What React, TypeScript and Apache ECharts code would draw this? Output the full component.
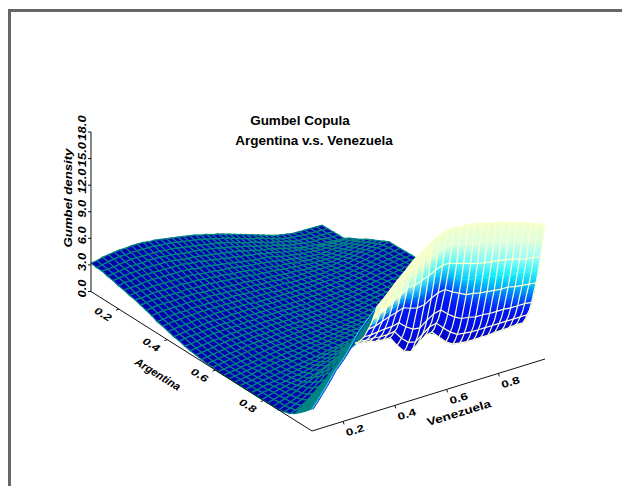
import React, { useEffect, useRef } from "react";
import * as echarts from "echarts";

const titleLines = ["Gumbel Copula", "Argentina v.s. Venezuela"];
const densityTicks = [0, 3, 6, 9, 12, 15, 18];
const argentinaTicks = [0.2, 0.4, 0.6, 0.8];
const venezuelaTicks = [0.2, 0.4, 0.6, 0.8];
const argentinaRange = [0.084, 1];
const venezuelaRange = [0.08, 0.98];

// Density surface, rows run along Argentina, columns along Venezuela (both normalised on the box)
const sheetZ: number[][] = [
[3.2,3.3,3.5,3.6,3.7,3.8,3.8,3.9,3.9,3.9,3.8,3.8,3.7,3.6,3.5,3.4,3.3,3.2,3.1,2.9,2.8,2.6,2.5,2.3,2.1,1.9,1.7,1.5,1.3,1.1,.9,.7,.5,.4,.3,.2,.2,.2,.2,.2,.2],
[3.1,3.2,3.4,3.5,3.6,3.6,3.7,3.7,3.7,3.7,3.7,3.6,3.6,3.5,3.4,3.3,3.2,3.1,3.0,2.8,2.7,2.5,2.4,2.2,2.0,1.8,1.6,1.4,1.3,1.1,.9,.7,.5,.4,.3,.3,.2,.2,.2,.2,.2],
[3.1,3.1,3.2,3.3,3.4,3.5,3.5,3.5,3.5,3.5,3.5,3.4,3.4,3.3,3.2,3.1,3.0,2.9,2.8,2.7,2.6,2.4,2.3,2.1,1.9,1.7,1.6,1.4,1.2,1.0,.9,.7,.6,.4,.3,.3,.2,.2,.2,.2,.2],
[2.9,3.0,3.1,3.2,3.3,3.3,3.3,3.4,3.4,3.4,3.3,3.3,3.2,3.1,3.0,3.0,2.9,2.8,2.7,2.6,2.4,2.3,2.2,2.0,1.9,1.7,1.5,1.4,1.2,1.1,.9,.7,.6,.5,.4,.3,.3,.3,.2,.2,.2],
[2.8,2.9,3.0,3.1,3.1,3.2,3.2,3.2,3.2,3.2,3.2,3.1,3.0,2.9,2.9,2.8,2.7,2.6,2.5,2.4,2.3,2.2,2.1,1.9,1.8,1.6,1.5,1.4,1.2,1.1,.9,.8,.6,.5,.5,.4,.3,.3,.3,.2,.2],
[2.6,2.8,2.8,2.9,3.0,3.0,3.0,3.0,3.0,3.0,3.0,3.0,2.9,2.8,2.8,2.6,2.6,2.4,2.4,2.2,2.2,2.0,2.0,1.8,1.8,1.6,1.5,1.4,1.2,1.1,1.0,.9,.8,.7,.6,.6,.6,.6,.6,.6,.6],
[2.5,2.6,2.6,2.7,2.8,2.8,2.8,2.8,2.8,2.8,2.8,2.8,2.7,2.6,2.6,2.5,2.4,2.3,2.2,2.1,2.0,1.9,1.8,1.7,1.7,1.6,1.5,1.3,1.2,1.1,1.0,.9,.9,.8,.8,.8,.8,.8,.8,.9,.9],
[2.3,2.4,2.5,2.5,2.6,2.6,2.6,2.6,2.6,2.6,2.6,2.6,2.5,2.4,2.4,2.3,2.2,2.2,2.1,2.0,1.9,1.8,1.8,1.7,1.6,1.5,1.4,1.3,1.2,1.1,1.0,1.0,.9,.9,.9,1.0,1.0,1.1,1.1,1.2,1.2],
[2.2,2.2,2.3,2.4,2.4,2.4,2.4,2.4,2.5,2.4,2.4,2.4,2.3,2.3,2.2,2.2,2.1,2.0,2.0,1.9,1.8,1.7,1.7,1.6,1.5,1.4,1.4,1.3,1.2,1.2,1.1,1.1,1.0,1.1,1.1,1.2,1.2,1.3,1.4,1.5,1.6],
[2.0,2.1,2.2,2.2,2.2,2.2,2.2,2.2,2.3,2.2,2.2,2.2,2.2,2.1,2.1,2.0,2.0,1.9,1.9,1.8,1.7,1.7,1.6,1.6,1.5,1.4,1.4,1.3,1.3,1.2,1.2,1.2,1.2,1.2,1.3,1.4,1.5,1.6,1.7,1.8,1.9],
[1.8,1.9,2.0,2.0,2.0,2.0,2.1,2.1,2.1,2.1,2.0,2.0,2.0,1.9,1.9,1.8,1.8,1.8,1.7,1.7,1.6,1.6,1.5,1.5,1.4,1.4,1.4,1.3,1.3,1.3,1.3,1.3,1.3,1.4,1.5,1.6,1.7,1.8,2.0,2.1,2.2],
[1.6,1.7,1.8,1.8,1.8,1.8,1.9,1.9,1.9,1.9,1.9,1.9,1.8,1.8,1.8,1.7,1.7,1.7,1.7,1.6,1.6,1.6,1.5,1.5,1.4,1.4,1.4,1.4,1.4,1.4,1.4,1.4,1.5,1.6,1.7,1.8,2.0,2.1,2.2,2.4,2.5],
[1.3,1.4,1.5,1.6,1.6,1.6,1.7,1.7,1.7,1.7,1.7,1.7,1.7,1.7,1.7,1.6,1.6,1.6,1.6,1.5,1.5,1.5,1.5,1.4,1.4,1.4,1.4,1.4,1.4,1.4,1.5,1.5,1.6,1.7,1.9,2.0,2.2,2.3,2.5,2.6,2.8],
[1.2,1.3,1.4,1.4,1.5,1.5,1.6,1.6,1.6,1.6,1.6,1.6,1.6,1.6,1.6,1.5,1.5,1.5,1.5,1.5,1.4,1.4,1.4,1.4,1.4,1.4,1.4,1.4,1.5,1.5,1.6,1.6,1.7,1.8,2.0,2.1,2.3,2.4,2.6,2.7,2.8],
[1.0,1.1,1.2,1.2,1.3,1.4,1.4,1.4,1.5,1.5,1.5,1.5,1.5,1.5,1.5,1.4,1.4,1.4,1.4,1.4,1.4,1.4,1.4,1.4,1.4,1.4,1.5,1.5,1.5,1.6,1.6,1.7,1.8,1.9,2.1,2.2,2.4,2.5,2.6,2.7,2.8],
[.8,.9,1.0,1.1,1.1,1.2,1.3,1.3,1.3,1.3,1.4,1.4,1.4,1.4,1.4,1.4,1.4,1.4,1.4,1.4,1.4,1.4,1.4,1.4,1.4,1.4,1.5,1.5,1.6,1.6,1.7,1.8,1.9,2.0,2.2,2.3,2.4,2.5,2.6,2.7,2.8],
[.7,.8,.9,.9,1.0,1.1,1.1,1.2,1.2,1.2,1.3,1.3,1.3,1.3,1.3,1.3,1.3,1.3,1.3,1.3,1.3,1.3,1.4,1.4,1.4,1.5,1.5,1.6,1.6,1.7,1.8,1.9,2.0,2.1,2.3,2.4,2.5,2.6,2.7,2.7,2.8],
[.5,.6,.7,.8,.9,1.0,1.0,1.1,1.1,1.1,1.2,1.2,1.2,1.3,1.3,1.3,1.3,1.3,1.3,1.3,1.3,1.3,1.4,1.4,1.4,1.5,1.5,1.6,1.6,1.7,1.8,1.9,2.0,2.2,2.3,2.4,2.5,2.6,2.7,2.8,2.8],
[.4,.5,.6,.7,.8,.8,.9,1.0,1.0,1.1,1.1,1.1,1.2,1.2,1.2,1.2,1.3,1.3,1.3,1.3,1.3,1.3,1.4,1.4,1.5,1.5,1.6,1.6,1.7,1.8,1.9,2.0,2.1,2.2,2.4,2.5,2.6,2.7,2.8,2.9,2.9],
[.3,.4,.5,.6,.7,.8,.9,.9,1.0,1.0,1.1,1.1,1.1,1.2,1.2,1.2,1.2,1.3,1.3,1.3,1.3,1.3,1.4,1.4,1.5,1.6,1.6,1.7,1.8,1.9,2.0,2.0,2.2,2.3,2.4,2.5,2.7,2.8,2.8,2.9,3.0],
[.2,.3,.4,.5,.6,.7,.8,.8,.9,1.0,1.0,1.0,1.1,1.1,1.2,1.2,1.2,1.2,1.3,1.3,1.3,1.3,1.4,1.4,1.5,1.6,1.7,1.7,1.8,1.9,2.0,2.1,2.2,2.3,2.5,2.6,2.7,2.8,2.9,2.9,3.0],
[.1,.2,.3,.4,.5,.6,.7,.8,.9,.9,1.0,1.0,1.1,1.1,1.2,1.2,1.2,1.3,1.3,1.3,1.3,1.4,1.4,1.5,1.6,1.6,1.7,1.8,1.9,2.0,2.1,2.2,2.3,2.4,2.5,2.6,2.7,2.8,2.9,2.9,3.0],
[.1,.2,.3,.4,.5,.6,.7,.8,.9,.9,1.0,1.0,1.1,1.1,1.2,1.2,1.3,1.3,1.3,1.4,1.4,1.4,1.5,1.6,1.7,1.7,1.8,1.9,2.0,2.0,2.2,2.2,2.4,2.4,2.6,2.6,2.8,2.8,2.9,3.0,3.0],
[0,.1,.2,.3,.4,.5,.6,.7,.8,.9,1.0,1.0,1.1,1.2,1.2,1.2,1.3,1.3,1.4,1.4,1.5,1.5,1.6,1.6,1.7,1.8,1.9,1.9,2.0,2.1,2.2,2.3,2.4,2.5,2.6,2.6,2.8,2.8,2.9,3.0,3.0],
[0,.1,.2,.3,.4,.5,.6,.7,.8,.9,1.0,1.0,1.1,1.2,1.2,1.2,1.3,1.4,1.4,1.5,1.5,1.6,1.7,1.7,1.8,1.9,2.0,2.0,2.1,2.2,2.3,2.4,2.5,2.6,2.7,2.7,2.8,2.9,2.9,3.0,3.0],
[0,.1,.2,.3,.4,.5,.6,.7,.8,.9,1.0,1.0,1.1,1.2,1.3,1.3,1.4,1.5,1.5,1.6,1.7,1.8,1.8,1.9,2.0,2.0,2.1,2.2,2.3,2.3,2.4,2.5,2.6,2.7,2.8,2.8,2.9,2.9,3.0,3.0,3.0],
[0,.1,.2,.3,.5,.6,.7,.8,.9,.9,1.0,1.1,1.2,1.3,1.4,1.4,1.5,1.6,1.7,1.8,1.9,1.9,2.0,2.1,2.2,2.2,2.3,2.4,2.4,2.5,2.6,2.6,2.7,2.8,2.8,2.9,2.9,3.0,3.0,3.0,3.0],
[0,.1,.2,.3,.5,.6,.7,.8,.9,1.0,1.1,1.2,1.3,1.4,1.5,1.6,1.7,1.8,1.9,2.0,2.0,2.1,2.2,2.3,2.3,2.4,2.5,2.5,2.6,2.6,2.7,2.8,2.8,2.9,2.9,3.0,3.0,3.0,3.0,3.0,3.0],
[0,.1,.3,.4,.5,.6,.7,.8,.9,1.0,1.1,1.2,1.3,1.4,1.6,1.7,1.8,1.9,2.0,2.1,2.2,2.3,2.4,2.4,2.5,2.6,2.6,2.7,2.7,2.8,2.8,2.9,2.9,2.9,3.0,3.0,3.0,3.0,3.0,3.0,3.0],
[0,.1,.3,.4,.5,.6,.8,.9,1.0,1.1,1.3,1.4,1.6,1.8,1.9,2.1,2.2,2.3,2.5,2.5,2.6,2.7,2.7,2.8,2.8,2.8,2.9,2.9,2.9,3.0,3.0,3.0,3.0,3.0,3.0,3.0,3.0,3.0,3.0,3.0,3.0],
[0,.2,.3,.5,.6,.7,.9,1.0,1.1,1.3,1.5,1.7,1.9,2.1,2.3,2.5,2.6,2.8,2.9,3.0,3.0,3.0,3.1,3.1,3.1,3.1,3.1,3.1,3.1,3.1,3.1,3.1,3.1,3.1,3.1,3.1,3.1,3.1,3.1,3.1,3.1],
[0,.2,.4,.6,.7,.9,1.0,1.2,1.4,1.6,1.9,2.1,2.3,2.6,2.9,3.2,3.4,3.5,3.6,3.6,3.6,3.5,3.5,3.4,3.4,3.4,3.3,3.3,3.2,3.2,3.2,3.2,3.2,3.2,3.2,3.2,3.2,3.2,3.2,3.2,3.2],
[0,.2,.4,.6,.8,1.0,1.2,1.4,1.6,1.9,2.2,2.5,2.8,3.2,3.5,3.9,4.2,4.2,4.2,4.2,4.2,4.0,3.8,3.7,3.6,3.6,3.5,3.5,3.4,3.4,3.4,3.4,3.4,3.4,3.4,3.4,3.4,3.4,3.4,3.4,3.4],
[0,.3,.5,.7,1.0,1.3,1.6,1.9,2.2,2.6,3.0,3.4,3.8,4.2,4.6,4.8,5.0,5.0,4.9,4.8,4.6,4.4,4.1,4.0,3.8,3.8,3.6,3.6,3.5,3.5,3.5,3.5,3.5,3.5,3.5,3.5,3.5,3.5,3.5,3.5,3.5],
[0,.3,.5,.8,1.1,1.5,1.9,2.4,2.8,3.3,3.8,4.3,4.8,5.2,5.6,5.7,5.8,5.7,5.6,5.3,5.0,4.7,4.4,4.2,4.0,3.9,3.7,3.6,3.5,3.5,3.5,3.6,3.6,3.6,3.6,3.6,3.6,3.6,3.6,3.6,3.6],
[.2,.4,.7,1.0,1.4,1.9,2.4,3.0,3.5,4.1,4.6,5.1,5.5,5.7,5.8,5.8,5.8,5.6,5.4,4.9,4.4,4.4,4.4,4.4,4.4,4.1,3.8,3.5,3.2,3.2,3.2,3.2,3.2,3.2,3.2,3.2,3.2,3.2,3.2,3.2,3.2],
[.4,.6,.9,1.3,1.8,2.4,3.0,3.6,4.3,4.9,5.5,5.9,6.3,6.2,6.0,5.9,5.8,5.5,5.2,4.5,3.8,4.0,4.3,4.6,4.9,4.4,3.9,3.4,3.0,2.9,2.8,2.8,2.8,2.8,2.8,2.8,2.8,2.8,2.9,2.9,2.9],
[.8,1.2,1.6,2.2,2.7,3.4,4.0,4.7,5.4,6.0,6.7,7.1,7.6,7.6,7.5,7.4,7.4,7.2,6.9,6.4,6.0,6.2,6.4,6.7,7.0,6.6,6.1,5.7,5.4,5.2,5.1,5.0,5.0,5.0,5.0,4.9,4.9,4.9,4.9,4.9,4.9],
[1.3,1.8,2.4,3.0,3.6,4.3,5.0,5.8,6.6,7.2,7.8,8.3,8.8,8.9,9.0,9.0,9.0,8.8,8.6,8.4,8.2,8.4,8.6,8.8,9.1,8.7,8.3,8.0,7.8,7.6,7.4,7.3,7.2,7.1,7.1,7.0,7.0,6.9,6.9,6.8,6.8],
[1.9,2.6,3.3,4.1,4.9,5.6,6.3,7.2,8.1,8.8,9.4,10.0,10.6,10.9,11.3,11.6,11.9,12.1,12.3,12.5,12.6,13.0,13.3,13.4,13.6,13.4,13.1,12.9,12.8,12.6,12.4,12.3,12.1,12.0,11.9,11.8,11.6,11.5,11.3,11.1,11.0],
[2.5,3.3,4.2,5.1,6.1,6.8,7.6,8.6,9.6,10.3,11.0,11.7,12.0,12.6,13.2,13.9,14.5,15.1,15.6,16.2,16.7,17.0,17.2,17.4,17.4,17.3,17.2,17.1,17.0,16.8,16.6,16.4,16.2,16.0,15.8,15.6,15.3,15.1,14.8,14.5,14.2],
];

// The steep upper-tail wall next to Argentina = 1, rows from its foot to its crest
const wallZ: number[][] = [
[6.1,5.9,5.8,5.6,5.5,5.5,4.4,3.5,3.2,3.9,4.5,4.7,3.9,3.1,2.6,2.5,2.4,2.4,2.4,2.4,2.5,2.5,2.5,2.6,2.6],
[6.3,6.2,6.1,5.9,5.9,5.9,4.9,4.0,3.8,4.5,5.0,5.2,4.5,3.7,3.2,3.1,3.0,3.0,3.0,3.0,3.1,3.0,3.0,3.1,3.1],
[6.6,6.5,6.5,6.4,6.4,6.5,5.5,4.8,4.6,5.2,5.8,6.0,5.2,4.5,4.0,3.9,3.8,3.8,3.8,3.8,3.8,3.8,3.8,3.8,3.8],
[7.0,6.9,6.9,6.9,6.9,7.0,6.2,5.5,5.4,6.0,6.5,6.7,6.0,5.3,4.9,4.8,4.6,4.6,4.6,4.5,4.6,4.5,4.5,4.5,4.5],
[7.4,7.4,7.5,7.6,7.6,7.8,7.1,6.6,6.5,7.1,7.6,7.8,7.1,6.5,6.1,6.0,5.8,5.8,5.7,5.7,5.7,5.6,5.6,5.6,5.5],
[8.0,8.1,8.3,8.4,8.6,8.8,8.3,8.0,8.0,8.5,9.0,9.1,8.5,8.0,7.6,7.5,7.3,7.3,7.2,7.1,7.1,7.0,6.9,6.9,6.8],
[8.6,8.7,9.0,9.3,9.5,9.8,9.5,9.3,9.4,9.9,10.3,10.4,9.9,9.5,9.1,9.0,8.8,8.7,8.6,8.5,8.5,8.3,8.2,8.1,8.0],
[9.2,9.5,9.9,10.3,10.6,11.1,10.9,10.9,11.1,11.6,11.9,12.0,11.6,11.2,10.9,10.8,10.6,10.5,10.4,10.2,10.1,10.0,9.8,9.7,9.5],
[10.0,10.4,10.9,11.4,11.8,12.4,12.4,12.7,13.0,13.4,13.7,13.7,13.4,13.2,12.9,12.7,12.5,12.4,12.3,12.1,12.0,11.7,11.5,11.4,11.2],
[10.9,11.4,12.1,12.7,13.3,14.0,14.3,14.8,15.2,15.5,15.7,15.9,15.7,15.5,15.3,15.1,14.9,14.7,14.6,14.3,14.2,13.9,13.7,13.4,13.2],
[11.8,12.5,13.3,14.1,14.8,15.6,16.2,16.7,17.3,17.7,17.9,18.0,17.9,17.9,17.7,17.5,17.3,17.1,16.9,16.6,16.4,16.1,15.8,15.5,15.2],
];
const WALL_U0 = 0.9, WALL_DU = 0.01, WALL_V0 = 0.28, WALL_DV = 0.03;

const P00 = [91, 291.5], P10 = [312, 431], P01 = [322, 227], P11 = [545, 359];
const Z_PX = 8.86;
const FONT = "Liberation Sans";

function project(u: number, v: number, z: number): number[] {
  const a = (1 - u) * (1 - v), b = u * (1 - v), c = (1 - u) * v, d = u * v;
  return [
    a * P00[0] + b * P10[0] + c * P01[0] + d * P11[0],
    a * P00[1] + b * P10[1] + c * P01[1] + d * P11[1] - z * Z_PX,
  ];
}
const uOf = (a: number) => (a - argentinaRange[0]) / (argentinaRange[1] - argentinaRange[0]);
const vOf = (a: number) => (a - venezuelaRange[0]) / (venezuelaRange[1] - venezuelaRange[0]);

const lerp = (a: number[], b: number[], t: number) => a.map((x, i) => x + (b[i] - x) * t);
const stops: [number, number[]][] = [
  [0, [0, 24, 255]], [0.5, [0, 240, 255]], [0.8, [190, 255, 250]], [1, [240, 255, 205]],
];
function wallColor(t: number, v: number): string {
  const tb = v < 0.55 ? 0.67 - (v - 0.3) * 0.2 : 0.62 - (v - 0.55) * 0.62;
  const tp = v < 0.55 ? 0.75 + (v - 0.3) * 0.72 : 0.93 + (v - 0.55) * 0.05;
  const w = (t - tb) / (tp - tb);
  let c: number[];
  if (w <= 0) c = lerp([0, 0, 200], [0, 24, 255], Math.max(0, t / tb));
  else if (w >= 1) c = stops[3][1];
  else {
    let k = 0;
    while (w > stops[k + 1][0]) k++;
    c = lerp(stops[k][1], stops[k + 1][1], (w - stops[k][0]) / (stops[k + 1][0] - stops[k][0]));
  }
  return `rgb(${c.map(Math.round).join(",")})`;
}

export default function App() {
  const ref = useRef<HTMLDivElement>(null);
  useEffect(() => {
    const chart = echarts.init(ref.current!, undefined, { renderer: "svg" });
    const nu = sheetZ.length - 1, nv = sheetZ[0].length - 1;
    const sheetCells: number[][] = [];
    for (let i = 0; i < nu; i++) for (let j = nv - 1; j >= 0; j--) {
      // the far part of the last rows lies behind the wall, which is drawn over it
      if (i >= nu - 2 && j >= nv / 2) continue;
      sheetCells.push([i, j]);
    }
    const wallCells: number[][] = [];
    for (let i = 0; i < wallZ.length - 1; i++) for (let j = wallZ[0].length - 2; j >= 0; j--) wallCells.push([i, j]);
    const wallPt = (i: number, j: number) => project(WALL_U0 + WALL_DU * i, WALL_V0 + WALL_DV * j, wallZ[i][j]);
    const sheetPt = (i: number, j: number) => project(i / nu, j / nv, sheetZ[i][j]);

    const wallLines: number[][] = [];
    for (let i = 0; i < wallZ.length; i += 2) wallLines.push([0, i]);
    for (let j = 0; j < wallZ[0].length; j++) wallLines.push([1, j]);

    type Mark = { kind: string; a: number[]; b: number[]; text?: string; rot?: number; italic?: boolean; size?: number; sx?: number };
    const marks: Mark[] = [];
    const seg = (a: number[], b: number[]) => marks.push({ kind: "l", a, b });
    seg(project(0, 0, 0), project(0, 0, 18));
    seg(project(0, 0, 0), project(1, 0, 0));
    seg(project(1, 0, 0), project(1, 1, 0));
    densityTicks.forEach((t) => {
      const p = project(0, 0, t);
      seg(p, [p[0] - 3, p[1]]);
      const label = t.toFixed(1);
      marks.push({ kind: "t", a: [p[0] - 8, p[1] - (label.length > 3 ? 4 : 3)], b: [], text: label, rot: 90, italic: true, size: 10, sx: 1.3 });
    });
    argentinaTicks.forEach((t) => {
      const p = project(uOf(t), 0, 0);
      seg(p, [p[0] - 3, p[1] + 1]);
      marks.push({ kind: "t", a: [p[0] - 16, p[1] + 5], b: [], text: t.toFixed(1), rot: -32, italic: true, size: 10, sx: 1.3 });
    });
    venezuelaTicks.forEach((t) => {
      const p = project(1, vOf(t), 0);
      seg(p, [p[0] + 1, p[1] + 3]);
      marks.push({ kind: "t", a: [p[0] + 12, p[1] + 9], b: [], text: t.toFixed(1), rot: 17, size: 10, sx: 1.35 });
    });
    marks.push({ kind: "t", a: [68, 198], b: [], text: "Gumbel density", rot: 90, italic: true, size: 11, sx: 1.2 });
    marks.push({ kind: "t", a: [158, 374], b: [], text: "Argentina", rot: -32, italic: true, size: 11 });
    marks.push({ kind: "t", a: [459, 413], b: [], text: "Venezuela", rot: 17, size: 11, sx: 1.25 });
    marks.push({ kind: "t", a: [300, 120], b: [], text: titleLines[0], rot: 0, size: 13.5 });
    marks.push({ kind: "t", a: [314, 140], b: [], text: titleLines[1], rot: 0, size: 13.5 });

    chart.setOption({
      animation: false,
      grid: { left: 0, right: 0, top: 0, bottom: 0 },
      xAxis: { type: "value", min: 0, max: 622, show: false },
      yAxis: { type: "value", min: 0, max: 486, inverse: true, show: false },
      graphic: [
        { type: "rect", shape: { x: 9.5, y: 10.5, width: 800, height: 800 }, style: { fill: "none", stroke: "#666", lineWidth: 3 }, silent: true },
      ],
      series: [
        {
          type: "custom", coordinateSystem: "cartesian2d", silent: true, clip: false, data: sheetCells,
          renderItem: (_: any, api: any) => {
            const i = api.value(0), j = api.value(1);
            const pts = [sheetPt(i, j), sheetPt(i + 1, j), sheetPt(i + 1, j + 1), sheetPt(i, j + 1)].map((p) => api.coord(p));
            const wedge = i >= nu - 3;
            return { type: "polygon", shape: { points: pts }, style: { fill: wedge ? "#008484" : "#0000b0", stroke: "#008484", lineWidth: 1.2 } };
          },
        },
        {
          type: "custom", coordinateSystem: "cartesian2d", silent: true, clip: false, data: [[0], [1]],
          renderItem: (_: any, api: any) => {
            const k = api.value(0);
            const pts: number[][] = [];
            for (let j = 0; j <= 12; j++) {
              const p = sheetPt(nu, j);
              pts.push(api.coord([p[0] + (k ? 1 : 0), p[1] + (k ? 0.6 : 0)]));
            }
            return { type: "polyline", shape: { points: pts }, style: { fill: "none", stroke: k ? "#1028f0" : "#20d8f0", lineWidth: 1 } };
          },
        },
        {
          type: "custom", coordinateSystem: "cartesian2d", silent: true, clip: false, data: wallCells,
          renderItem: (_: any, api: any) => {
            const i = api.value(0), j = api.value(1);
            const a = wallPt(i, j), b = wallPt(i + 1, j), c = wallPt(i + 1, j + 1), d = wallPt(i, j + 1);
            const pts = [a, b, c, d].map((p) => api.coord(p));
            const v = WALL_V0 + WALL_DV * (j + 0.5);
            const rows = wallZ.length - 1;
            const c0 = wallColor(i / rows, v), c1 = wallColor((i + 1) / rows, v), cm = wallColor((i + 0.5) / rows, v);
            const fill = new echarts.graphic.LinearGradient(
              (pts[0][0] + pts[3][0]) / 2, (pts[0][1] + pts[3][1]) / 2,
              (pts[1][0] + pts[2][0]) / 2, (pts[1][1] + pts[2][1]) / 2,
              [{ offset: 0, color: c0 }, { offset: 1, color: c1 }], true);
            return { type: "polygon", shape: { points: pts }, style: { fill, stroke: cm, lineWidth: 0.5 } };
          },
        },
        {
          type: "custom", coordinateSystem: "cartesian2d", silent: true, clip: false, data: wallLines,
          renderItem: (_: any, api: any) => {
            const dir = api.value(0), k = api.value(1);
            const pts: number[][] = [];
            if (dir === 0) for (let j = 0; j < wallZ[0].length; j++) pts.push(wallPt(k, j));
            else for (let i = 0; i < wallZ.length; i++) pts.push(wallPt(i, k));
            return { type: "polyline", shape: { points: pts.map((p) => api.coord(p)) }, style: { fill: "none", stroke: "#ffffcc", lineWidth: 1.2 } };
          },
        },
        {
          type: "custom", coordinateSystem: "cartesian2d", silent: true, clip: false, data: marks.map((_, i) => [i]),
          renderItem: (_: any, api: any) => {
            const m = marks[api.value(0)];
            const a = api.coord(m.a);
            if (m.kind === "l") {
              const b = api.coord(m.b);
              return { type: "line", shape: { x1: a[0], y1: a[1], x2: b[0], y2: b[1] }, style: { stroke: "#111", lineWidth: 1 } };
            }
            return {
              type: "text", x: a[0], y: a[1], rotation: ((m.rot || 0) * Math.PI) / 180, scaleX: m.sx || 1,
              style: { text: m.text, fill: "#000", font: `${m.italic ? "italic " : ""}bold ${m.size}px "${FONT}"`, align: "center", verticalAlign: "middle" },
            };
          },
        },
      ],
    });
    return () => chart.dispose();
  }, []);
  return <div ref={ref} style={{ position: "absolute", left: 0, top: 0, width: 622, height: 486 }} />;
}
